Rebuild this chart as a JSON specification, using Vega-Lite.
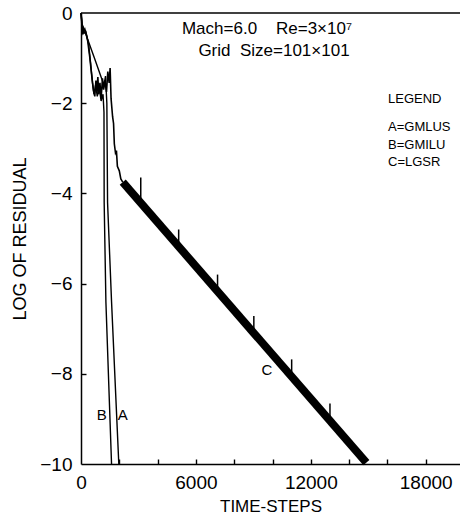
{
  "$schema": "https://vega.github.io/schema/vega-lite/v6.json",
  "width": 379,
  "height": 451,
  "autosize": {"type": "none"},
  "padding": {"left": 81, "top": 13, "right": 0, "bottom": 56},
  "background": "white",
  "config": {
    "view": {"stroke": null},
    "font": "Liberation Sans",
    "axis": {
      "domainColor": "black",
      "domainWidth": 1.5,
      "tickColor": "black",
      "tickWidth": 1.4,
      "labelColor": "black",
      "titleColor": "black",
      "titleFontWeight": "normal",
      "grid": false,
      "labelFont": "Liberation Sans",
      "titleFont": "Liberation Sans"
    }
  },
  "resolve": {"axis": {"x": "independent", "y": "independent"}},
  "datasets": {
    "curves": [
      {"s": "C", "step": 0, "v": 0},
      {"s": "C", "step": 30, "v": -0.15},
      {"s": "C", "step": 60, "v": -0.38},
      {"s": "C", "step": 100, "v": -0.3},
      {"s": "C", "step": 150, "v": -0.45},
      {"s": "C", "step": 250, "v": -0.42},
      {"s": "C", "step": 350, "v": -0.62},
      {"s": "C", "step": 450, "v": -0.95},
      {"s": "C", "step": 550, "v": -1.35},
      {"s": "C", "step": 650, "v": -1.72},
      {"s": "C", "step": 720, "v": -1.85},
      {"s": "C", "step": 780, "v": -1.5},
      {"s": "C", "step": 830, "v": -1.75},
      {"s": "C", "step": 880, "v": -1.42},
      {"s": "C", "step": 930, "v": -1.8},
      {"s": "C", "step": 990, "v": -1.55},
      {"s": "C", "step": 1050, "v": -1.9},
      {"s": "C", "step": 1120, "v": -1.45},
      {"s": "C", "step": 1180, "v": -1.7},
      {"s": "C", "step": 1250, "v": -1.5},
      {"s": "C", "step": 1330, "v": -1.75},
      {"s": "C", "step": 1400, "v": -1.3},
      {"s": "C", "step": 1470, "v": -1.55},
      {"s": "C", "step": 1520, "v": -1.22},
      {"s": "C", "step": 1570, "v": -1.9},
      {"s": "C", "step": 1650, "v": -2.3},
      {"s": "C", "step": 1700, "v": -2.45},
      {"s": "C", "step": 1740, "v": -2.9},
      {"s": "C", "step": 1800, "v": -3.1},
      {"s": "C", "step": 1850, "v": -3.05},
      {"s": "C", "step": 1900, "v": -3.4},
      {"s": "C", "step": 2000, "v": -3.5},
      {"s": "C", "step": 2080, "v": -3.68},
      {"s": "C", "step": 2180, "v": -3.75},
      {"s": "C", "step": 14900, "v": -9.97},
      {"s": "B", "step": 0, "v": 0},
      {"s": "B", "step": 40, "v": -0.2},
      {"s": "B", "step": 80, "v": -0.45},
      {"s": "B", "step": 200, "v": -0.35},
      {"s": "B", "step": 300, "v": -0.5},
      {"s": "B", "step": 400, "v": -0.7},
      {"s": "B", "step": 500, "v": -1.1},
      {"s": "B", "step": 600, "v": -1.55},
      {"s": "B", "step": 680, "v": -1.8},
      {"s": "B", "step": 760, "v": -1.6},
      {"s": "B", "step": 850, "v": -1.85},
      {"s": "B", "step": 950, "v": -1.65},
      {"s": "B", "step": 1050, "v": -1.95},
      {"s": "B", "step": 1150, "v": -1.8},
      {"s": "B", "step": 1200, "v": -2.2},
      {"s": "B", "step": 1210, "v": -4.2},
      {"s": "B", "step": 1300, "v": -6.4},
      {"s": "B", "step": 1595, "v": -10},
      {"s": "A", "step": 0, "v": 0},
      {"s": "A", "step": 60, "v": -0.25},
      {"s": "A", "step": 150, "v": -0.35},
      {"s": "A", "step": 700, "v": -1.0},
      {"s": "A", "step": 1200, "v": -1.6},
      {"s": "A", "step": 1280, "v": -1.4},
      {"s": "A", "step": 1350, "v": -2.0},
      {"s": "A", "step": 1360, "v": -2.6},
      {"s": "A", "step": 1387, "v": -4.2},
      {"s": "A", "step": 1595, "v": -6.4},
      {"s": "A", "step": 1975, "v": -10}
    ],
    "spikes": [
      {"step": 3120, "lo": -4.3, "hi": -3.65},
      {"step": 5100, "lo": -5.28, "hi": -4.8},
      {"step": 7130, "lo": -6.27, "hi": -5.8},
      {"step": 9025, "lo": -7.2, "hi": -6.72},
      {"step": 11000, "lo": -8.16, "hi": -7.68},
      {"step": 13000, "lo": -9.14, "hi": -8.66}
    ],
    "notes": [
      {"kind": "header", "t": "Mach=6.0\u00a0\u00a0\u00a0\u00a0Re=3×10⁷", "step": 9713, "v": -0.355},
      {"kind": "header", "t": "Grid\u00a0\u00a0Size=101×101", "step": 10078, "v": -0.84},
      {"kind": "legend", "t": "LEGEND", "step": 16031, "v": -1.907},
      {"kind": "legend", "t": "A=GMLUS", "step": 16031, "v": -2.53},
      {"kind": "legend", "t": "B=GMILU", "step": 16031, "v": -2.93},
      {"kind": "legend", "t": "C=LGSR", "step": 16031, "v": -3.3},
      {"kind": "curve", "t": "A", "step": 2178, "v": -8.91},
      {"kind": "curve", "t": "B", "step": 1081, "v": -8.91},
      {"kind": "curve", "t": "C", "step": 9713, "v": -7.92}
    ]
  },
  "layer": [
    {
      "data": {"name": "curves"},
      "transform": [{"filter": "datum.s === 'C' && datum.step <= 2180"}],
      "mark": {"type": "line", "color": "black", "strokeWidth": 1.6},
      "encoding": {
        "x": {
          "field": "step", "type": "quantitative",
          "scale": {"domain": [0, 19790], "nice": false, "zero": false},
          "axis": {
            "orient": "bottom",
            "values": [0, 6000, 12000, 18000],
            "format": "d",
            "ticks": false,
            "labelPadding": 9,
            "labelFontSize": 19,
            "labelFlush": false,
            "title": "TIME-STEPS",
            "titleFontSize": 17,
            "titlePadding": 6
          }
        },
        "y": {
          "field": "v", "type": "quantitative",
          "scale": {"domain": [-10, 0], "nice": false, "zero": false},
          "axis": {
            "orient": "left",
            "values": [-10, -8, -6, -4, -2, 0],
            "ticks": false,
            "labelPadding": 9,
            "labelFontSize": 19,
            "labelFlush": false,
            "title": "LOG OF RESIDUAL",
            "titleFontSize": 18,
            "titlePadding": 10
          }
        }
      }
    },
    {
      "data": {"name": "curves"},
      "transform": [{"filter": "datum.s !== 'C'"}],
      "mark": {"type": "line", "color": "black", "strokeWidth": 1.4},
      "encoding": {
        "x": {
          "field": "step", "type": "quantitative",
          "axis": {
            "orient": "bottom",
            "offset": -5,
            "domain": false,
            "labels": false,
            "ticks": true,
            "tickSize": 5,
            "title": null,
            "values": [2000, 4000, 6000, 8000, 10000, 12000, 14000, 16000, 18000]
          }
        },
        "y": {
          "field": "v", "type": "quantitative",
          "axis": {
            "orient": "left",
            "offset": -5,
            "domain": false,
            "labels": false,
            "ticks": true,
            "tickSize": 5,
            "title": null,
            "values": [-8, -6, -4, -2]
          }
        },
        "detail": {"field": "s"}
      }
    },
    {
      "data": {"name": "curves"},
      "transform": [{"filter": "datum.s === 'C' && datum.step >= 2180"}],
      "mark": {"type": "line", "color": "black", "strokeWidth": 8, "strokeCap": "butt"},
      "encoding": {
        "x": {"field": "step", "type": "quantitative", "axis": null},
        "y": {"field": "v", "type": "quantitative", "axis": null}
      }
    },
    {
      "data": {"name": "spikes"},
      "mark": {"type": "rule", "color": "black", "strokeWidth": 1.5},
      "encoding": {
        "x": {"field": "step", "type": "quantitative", "axis": null},
        "y": {"field": "lo", "type": "quantitative", "axis": null},
        "y2": {"field": "hi"}
      }
    },
    {
      "data": {"values": [{}]},
      "mark": {"type": "rule", "color": "black", "strokeWidth": 1.5},
      "encoding": {"y": {"datum": 0, "axis": null}}
    },
    {
      "data": {"name": "notes"},
      "transform": [{"filter": "datum.kind === 'header'"}],
      "mark": {"type": "text", "align": "center", "baseline": "middle", "fontSize": 17, "color": "black"},
      "encoding": {
        "x": {"field": "step", "type": "quantitative", "axis": null},
        "y": {"field": "v", "type": "quantitative", "axis": null},
        "text": {"field": "t"}
      }
    },
    {
      "data": {"name": "notes"},
      "transform": [{"filter": "datum.kind === 'legend'"}],
      "mark": {"type": "text", "align": "left", "baseline": "middle", "fontSize": 13, "color": "black"},
      "encoding": {
        "x": {"field": "step", "type": "quantitative", "axis": null},
        "y": {"field": "v", "type": "quantitative", "axis": null},
        "text": {"field": "t"}
      }
    },
    {
      "data": {"name": "notes"},
      "transform": [{"filter": "datum.kind === 'curve'"}],
      "mark": {"type": "text", "align": "center", "baseline": "middle", "fontSize": 15, "color": "black"},
      "encoding": {
        "x": {"field": "step", "type": "quantitative", "axis": null},
        "y": {"field": "v", "type": "quantitative", "axis": null},
        "text": {"field": "t"}
      }
    }
  ]
}
